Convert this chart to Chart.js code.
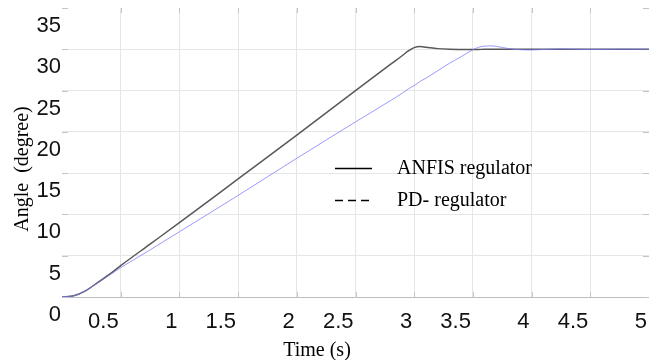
<!DOCTYPE html>
<html>
<head>
<meta charset="utf-8">
<script src="https://cdn.jsdelivr.net/npm/chart.js@4.4.0/dist/chart.umd.min.js"></script>
<style>
    html, body { margin: 0; padding: 0; background: #fff; }
    #wrap { width: 658px; height: 360px; }
</style>
</head>
<body>
<div id="wrap"><canvas id="angle-chart" width="658" height="360"></canvas></div>
<script>
// Data
const timeS = [0, 0.1, 0.2, 0.3, 0.4, 0.5, 0.75, 1.0, 1.5, 2.0, 2.5, 2.8, 2.9, 2.95, 3.0, 3.05, 3.1, 3.2, 3.3, 3.4,
               3.5, 3.55, 3.6, 3.65, 3.7, 3.8, 3.9, 4.0, 4.25, 4.5, 4.75, 5.0];
const anfisDeg = [0, 0.15, 0.75, 1.7, 2.7, 3.8, 6.4, 9.0, 14.3, 19.6, 25.0, 28.2, 29.25, 29.8, 30.2, 30.33, 30.25, 30.08, 30.0, 29.98,
                  29.97, 29.98, 30.0, 30.0, 30.0, 30.0, 30.0, 30.0, 30.0, 30.0, 30.0, 30.0];
const pdDeg = [0, 0.15, 0.75, 1.65, 2.6, 3.55, 5.7, 7.9, 12.3, 16.8, 21.2, 23.8, 24.7, 25.2, 25.6, 26.1, 26.5, 27.4, 28.3, 29.1,
               29.95, 30.25, 30.38, 30.42, 30.35, 30.1, 29.95, 29.92, 30.05, 29.98, 30.02, 30.0];

const xTicks = [0, 0.5, 1, 1.5, 2, 2.5, 3, 3.5, 4, 4.5, 5];
const yTicks = [0, 5, 10, 15, 20, 25, 30, 35];

const seriesNames = ['ANFIS regulator', 'PD- regulator'];
const xTitle = 'Time (s)';
const yTitle = 'Angle  (degree)';

const SANS = "'Liberation Sans', Arial, sans-serif";
const SERIF = "'Liberation Serif', 'Times New Roman', serif";

function toPoints(xs, ys) {
    return xs.map((x, i) => ({ x: x, y: ys[i] }));
}

// Small inner tick marks on all four sides (MATLAB style box)
const innerTicks = {
    id: 'innerTicks',
    beforeDatasetsDraw(chart) {
        const { ctx, chartArea: a, scales } = chart;
        ctx.save();
        ctx.strokeStyle = '#c4c4c4';
        ctx.lineWidth = 1;
        ctx.beginPath();
        yTicks.forEach(v => {
            const y = Math.round(scales.y.getPixelForValue(v)) + 0.5;
            ctx.moveTo(a.left, y); ctx.lineTo(a.left + 6, y);
            ctx.moveTo(a.right - 6, y); ctx.lineTo(a.right, y);
        });
        xTicks.forEach(v => {
            if (v === 0 || v === 5) return;
            const x = Math.round(scales.x.getPixelForValue(v)) + 0.5;
            ctx.moveTo(x, a.top); ctx.lineTo(x, a.top + 5);
            ctx.moveTo(x, a.bottom); ctx.lineTo(x, a.bottom - 5);
        });
        ctx.stroke();
        ctx.restore();
    }
};

// Axis titles and the in-plot legend
const labelsPlugin = {
    id: 'labels',
    afterDraw(chart) {
        const ctx = chart.ctx;
        ctx.save();
        ctx.fillStyle = '#000';
        ctx.font = '20px ' + SERIF;

        // x title
        ctx.textAlign = 'center';
        ctx.textBaseline = 'alphabetic';
        ctx.fillText(xTitle, 317, 356);

        // y title
        ctx.save();
        ctx.translate(28, 169);
        ctx.rotate(-Math.PI / 2);
        ctx.fillText(yTitle, 0, 0);
        ctx.restore();

        // legend
        ctx.strokeStyle = '#000';
        ctx.lineWidth = 1.5;
        ctx.beginPath();
        ctx.moveTo(335, 168.5); ctx.lineTo(372, 168.5);
        ctx.stroke();
        ctx.setLineDash([8, 5]);
        ctx.beginPath();
        ctx.moveTo(335, 200.5); ctx.lineTo(372, 200.5);
        ctx.stroke();
        ctx.setLineDash([]);

        ctx.textAlign = 'left';
        ctx.fillText(seriesNames[0], 397, 174);
        ctx.fillText(seriesNames[1], 397, 206);
        ctx.restore();
    }
};

function createAngleChart() {
    const ctx = document.getElementById('angle-chart');
    new Chart(ctx, {
        type: 'line',
        data: {
            datasets: [{
                label: seriesNames[0],
                data: toPoints(timeS, anfisDeg),
                borderColor: 'rgba(70, 70, 70, 0.9)',
                borderWidth: 1.5,
                pointRadius: 0,
                cubicInterpolationMode: 'monotone',
                order: 2
            }, {
                label: seriesNames[1],
                data: toPoints(timeS, pdDeg),
                borderColor: 'rgba(120, 120, 255, 0.75)',
                borderWidth: 1,
                pointRadius: 0,
                cubicInterpolationMode: 'monotone',
                order: 1
            }]
        },
        options: {
            responsive: false,
            animation: false,
            layout: { padding: { top: 8, right: 9, left: 0, bottom: 0 } },
            plugins: {
                legend: { display: false },
                tooltip: { enabled: false }
            },
            scales: {
                x: {
                    type: 'linear',
                    min: 0,
                    max: 5,
                    afterBuildTicks: scale => { scale.ticks = xTicks.map(v => ({ value: v })); },
                    afterFit: scale => {
                        scale.height = 63;
                        scale.paddingLeft = 0;
                        scale.paddingRight = 0;
                    },
                    border: { display: false },
                    grid: {
                        drawTicks: false,
                        color: c => (c.tick && (c.tick.value === 0 || c.tick.value === 5)) ? 'rgba(0,0,0,0)' : '#e6e6e6'
                    },
                    ticks: {
                        align: 'end',
                        labelOffset: -2,
                        padding: 12,
                        maxRotation: 0,
                        autoSkip: false,
                        color: '#111',
                        font: { family: SANS, size: 22 },
                        callback: v => v === 0 ? '' : String(v)
                    }
                },
                y: {
                    min: 0,
                    max: 35,
                    afterBuildTicks: scale => { scale.ticks = yTicks.map(v => ({ value: v })); },
                    afterFit: scale => {
                        scale.width = 62;
                        scale.paddingTop = 0;
                        scale.paddingBottom = 0;
                    },
                    border: { display: false },
                    grid: {
                        drawTicks: false,
                        color: c => {
                            if (!c.tick) return '#e6e6e6';
                            if (c.tick.value === 0) return '#bdbdbd';
                            if (c.tick.value === 35) return 'rgba(0,0,0,0)';
                            return '#e6e6e6';
                        }
                    },
                    ticks: {
                        labelOffset: 18,
                        padding: 1,
                        color: '#111',
                        font: { family: SANS, size: 22 },
                        callback: v => String(v)
                    }
                }
            }
        },
        plugins: [innerTicks, labelsPlugin]
    });
}

window.addEventListener('load', () => {
    createAngleChart();
});
</script>
</body>
</html>
